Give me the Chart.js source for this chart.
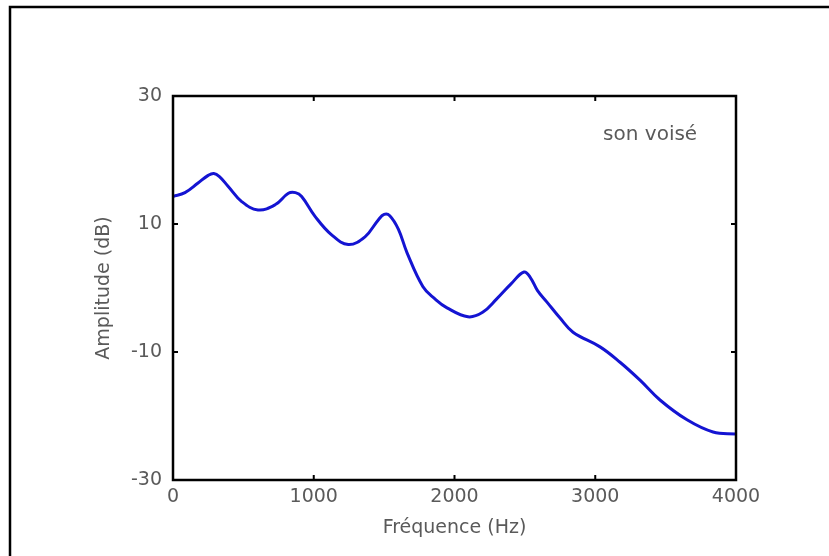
<!DOCTYPE html>
<html>
<head>
<meta charset="utf-8">
<script src="https://cdn.jsdelivr.net/npm/chart.js@4.4.1/dist/chart.umd.min.js"></script>
<style>
  html, body { margin: 0; padding: 0; background: #fff; }
  #wrap { width: 829px; height: 556px; }
</style>
</head>
<body>
<div id="wrap"><canvas id="spectre"></canvas></div>
<script>
// frequency (Hz) and amplitude (dB)
const frequences = [0, 85, 178, 250, 290, 330, 391, 488, 604, 725, 820, 870, 914, 1009, 1127, 1245, 1364, 1457, 1500, 1540, 1601, 1663, 1776, 1861, 1947, 2096, 2200, 2300, 2400, 2494, 2540, 2590, 2657, 2750, 2842, 3034, 3176, 3318, 3460, 3652, 3837, 4000];
const amplitudes = [14.3, 14.9, 16.4, 17.6, 17.9, 17.4, 15.9, 13.5, 12.2, 13.0, 14.8, 14.9, 14.3, 11.2, 8.3, 6.8, 8.0, 10.6, 11.5, 11.3, 9.2, 5.5, 0.2, -1.7, -3.1, -4.5, -3.8, -1.7, 0.6, 2.5, 1.6, -0.4, -2.2, -4.7, -6.9, -9.2, -11.6, -14.4, -17.5, -20.6, -22.5, -22.8];
const xTicks = [0, 1000, 2000, 3000, 4000];
const yTicks = [-30, -10, 10, 30];
const annotation = 'son voisé';

const gris = '#5a5a5a';
const police = { family: 'DejaVu Sans', size: 19 };

// outer frame, axes box, inward ticks and the "son voisé" note
const cadre = {
    id: 'cadre',
    afterDraw(chart) {
        const ctx = chart.ctx;
        const { left, right, top, bottom } = chart.chartArea;
        const xs = chart.scales.x, ys = chart.scales.y;
        ctx.save();
        ctx.strokeStyle = '#000';
        ctx.lineWidth = 2.5;
        ctx.beginPath();
        ctx.moveTo(10, 556);
        ctx.lineTo(10, 7);
        ctx.lineTo(829, 7);
        ctx.stroke();

        ctx.strokeRect(left, top, right - left, bottom - top);

        ctx.lineWidth = 2;
        xTicks.slice(1, -1).forEach(v => {
            const px = xs.getPixelForValue(v);
            ctx.beginPath();
            ctx.moveTo(px, bottom); ctx.lineTo(px, bottom - 5);
            ctx.moveTo(px, top); ctx.lineTo(px, top + 5);
            ctx.stroke();
        });
        yTicks.slice(1, -1).forEach(v => {
            const py = ys.getPixelForValue(v);
            ctx.beginPath();
            ctx.moveTo(left, py); ctx.lineTo(left + 5, py);
            ctx.moveTo(right, py); ctx.lineTo(right - 5, py);
            ctx.stroke();
        });

        ctx.fillStyle = gris;
        ctx.font = '20px "DejaVu Sans"';
        ctx.textAlign = 'center';
        ctx.textBaseline = 'middle';
        ctx.fillText(annotation, xs.getPixelForValue(3390), ys.getPixelForValue(24));
        ctx.restore();
    }
};

new Chart(document.getElementById('spectre'), {
    type: 'line',
    data: {
        datasets: [{
            data: frequences.map((f, i) => ({ x: f, y: amplitudes[i] })),
            borderColor: '#1414d2',
            borderWidth: 3,
            pointRadius: 0,
            tension: 0.4,
            fill: false
        }]
    },
    options: {
        responsive: true,
        maintainAspectRatio: false,
        animation: false,
        layout: { padding: { left: 93, right: 93, top: 96, bottom: 17 } },
        plugins: { legend: { display: false }, tooltip: { enabled: false } },
        scales: {
            x: {
                type: 'linear',
                min: 0, max: 4000,
                afterFit: s => { s.height = 59; },
                afterBuildTicks: s => { s.ticks = xTicks.map(v => ({ value: v })); },
                grid: { display: false, drawTicks: false },
                border: { display: false },
                ticks: { color: gris, font: police, padding: 6, maxRotation: 0, callback: v => String(v) },
                title: { display: true, text: 'Fréquence (Hz)', color: gris, font: police, padding: 0 }
            },
            y: {
                min: -30, max: 30,
                afterFit: s => { s.width = 80; },
                afterBuildTicks: s => { s.ticks = yTicks.map(v => ({ value: v })); },
                grid: { display: false, drawTicks: false },
                border: { display: false },
                ticks: { color: gris, font: police, padding: 11, callback: v => String(v) },
                title: { display: true, text: 'Amplitude (dB)', color: gris, font: police, padding: 0 }
            }
        }
    },
    plugins: [cadre]
});
</script>
</body>
</html>
